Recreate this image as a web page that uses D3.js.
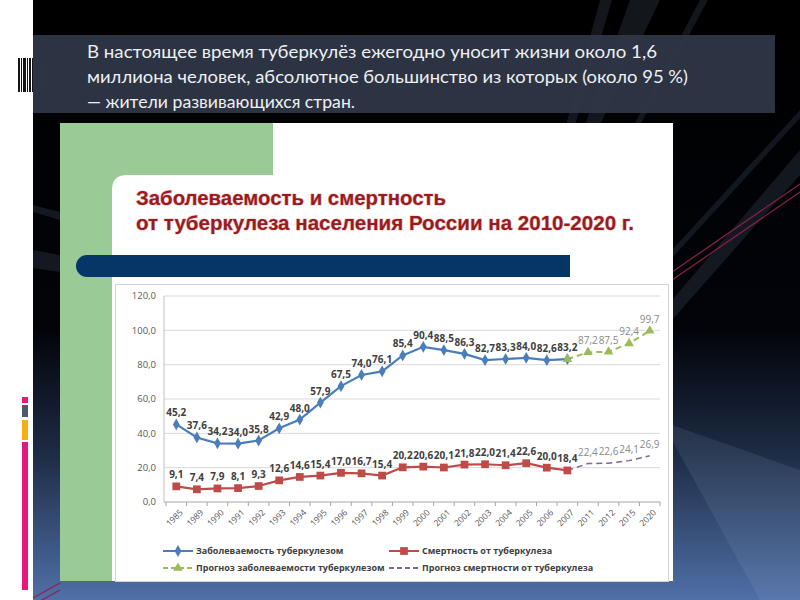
<!DOCTYPE html>
<html>
<head>
<meta charset="utf-8">
<script src="https://cdn.jsdelivr.net/npm/d3@7"></script>
<style>
  body { margin: 0; background: #fff; }
  svg { display: block; }
</style>
</head>
<body>
<div id="chart"></div>
<script>
// categories (years on the x axis)
const years = ["1985","1989","1990","1991","1992","1993","1994","1995","1996","1997","1998","1999",
  "2000","2001","2002","2003","2004","2005","2006","2007","2011","2012","2015","2020"];
const factYears = ["1985","1989","1990","1991","1992","1993","1994","1995","1996","1997","1998","1999",
  "2000","2001","2002","2003","2004","2005","2006","2007"];
const forecastYears = ["2007","2011","2012","2015","2020"];

// incidence and mortality per 100 000
const incidence = [45.2,37.6,34.2,34.0,35.8,42.9,48.0,57.9,67.5,74.0,76.1,85.4,90.4,88.5,86.3,82.7,83.3,84.0,82.6,83.2];
const mortality = [9.1,7.4,7.9,8.1,9.3,12.6,14.6,15.4,17.0,16.7,15.4,20.2,20.6,20.1,21.8,22.0,21.4,22.6,20.0,18.4];
const incidenceForecast = [83.2,87.2,87.5,92.4,99.7];
const mortalityForecast = [18.4,22.4,22.6,24.1,26.9];

const yTicks = [0,20,40,60,80,100,120];

const seriesNames = ["Заболеваемость туберкулезом","Смертность от туберкулеза",
  "Прогноз заболеваемости туберкулезом","Прогноз смертности от туберкулеза"];

const slideLines = ["В настоящее время туберкулёз  ежегодно уносит жизни около 1,6",
  "миллиона человек, абсолютное большинство из которых (около 95 %)",
  "— жители развивающихся стран."];
const titleLines = ["Заболеваемость и смертность","от туберкулеза населения России на 2010-2020 г."];

const W = 800, H = 600;
const svg = d3.select("#chart").append("svg").attr("width", W).attr("height", H);

// ---- slide background ----
const defs = svg.append("defs");
const bg = defs.append("linearGradient").attr("id","bg").attr("x1",0).attr("y1",0).attr("x2",0).attr("y2",1);
bg.append("stop").attr("offset","0").attr("stop-color","#000");
bg.append("stop").attr("offset","0.55").attr("stop-color","#02040a");
bg.append("stop").attr("offset","0.75").attr("stop-color","#1c2a42");
bg.append("stop").attr("offset","1").attr("stop-color","#5070a8");

svg.append("rect").attr("x",33).attr("y",0).attr("width",W-33).attr("height",H).attr("fill","url(#bg)");

// light streaks
const streaks = [
  [[600,0],[612,0],[575,125],[566,125]],
  [[630,0],[660,0],[600,125],[585,125]],
  [[700,0],[708,0],[640,125],[634,125]],
  [[672,300],[800,150],[800,175],[672,320]],
  [[672,250],[800,110],[800,118],[672,258]],
  [[33,250],[60,255],[60,272],[33,268]],
  [[33,205],[60,212],[60,220],[33,212]],
  [[672,425],[800,470],[800,600],[760,600],[672,440]]
];
svg.selectAll(".streak").data(streaks).enter().append("path")
  .attr("class","streak")
  .attr("d", d => "M" + d.join("L") + "Z")
  .attr("fill","#9fb3d6").attr("fill-opacity",0.12);

// pink double lines
[[672,272,800,184],[672,280,800,192],[33,605,60,590],[33,598,60,583]].forEach(l => {
  svg.append("line").attr("x1",l[0]).attr("y1",l[1]).attr("x2",l[2]).attr("y2",l[3])
    .attr("stroke","#8e2148").attr("stroke-width",1.2);
});

// left side decorations
const barcode = [[18,2],[21,1],[23,3],[27,1],[29,2],[32,1],[34,3],[38,1],[40,2],[43,3]];
barcode.forEach(b => {
  svg.append("rect").attr("x",b[0]).attr("y",58).attr("width",b[1]).attr("height",34).attr("fill","#151515");
});
[[397,6,"#e6197a"],[405,12,"#4f5868"],[420,20,"#f8ad12"],[442,148,"#e6197a"]].forEach(b => {
  svg.append("rect").attr("x",22).attr("y",b[0]).attr("width",6).attr("height",b[1]).attr("fill",b[2]);
});

// text box
svg.append("rect").attr("x",33).attr("y",35).attr("width",742).attr("height",78)
  .attr("fill","#2e3747").attr("fill-opacity",0.95);
const slideText = svg.append("g").attr("font-family","Lato, 'Open Sans', sans-serif")
  .attr("font-size",16.5).attr("fill","#eef0f2");
const lineLen = [570, 601, 268];
slideLines.forEach((t,i) => {
  slideText.append("text").attr("x",87).attr("y",58 + i*25).text(t)
    .attr("textLength", lineLen[i]).attr("lengthAdjust","spacingAndGlyphs");
});

// ---- picture panel ----
svg.append("rect").attr("x",60).attr("y",123).attr("width",613).attr("height",458).attr("fill","#fff");
svg.append("path")
  .attr("d","M60,123H273V175H127Q112,175 112,190V581H60Z")
  .attr("fill","#9acb96");

const title = svg.append("g").attr("font-family","'Liberation Sans', Arial, sans-serif")
  .attr("font-weight","bold").attr("font-size",19.5).attr("fill","#9a1a1e");
const titleLen = [310, 498];
titleLines.forEach((t,i) => {
  title.append("text").attr("x",136).attr("y",205 + i*25).text(t)
    .attr("textLength", titleLen[i]).attr("lengthAdjust","spacingAndGlyphs")
    .style("paint-order","stroke").attr("stroke","#e9c9c9").attr("stroke-width",1.2);
});

// navy bar
svg.append("rect").attr("x",76).attr("y",255).attr("width",494).attr("height",22)
  .attr("rx",11).attr("fill","#063668");
svg.append("rect").attr("x",90).attr("y",255).attr("width",480).attr("height",22).attr("fill","#063668");

// chart frame
svg.append("rect").attr("x",115.5).attr("y",284.5).attr("width",553).attr("height",297)
  .attr("fill","#fff").attr("stroke","#d4d4d4");

// ---- chart ----
const x = d3.scalePoint().domain(years).range([166, 660]).padding(0.5);
const y = d3.scaleLinear().domain([0,120]).range([502, 296]);
const fmt = v => d3.format(".1f")(v).replace(".", ",");
const step = x.step();

const chart = svg.append("g").attr("font-family","'Open Sans', 'Liberation Sans', sans-serif");

// gridlines and y labels
chart.selectAll(".grid").data(yTicks).enter().append("line")
  .attr("x1",164).attr("x2",660).attr("y1",d => y(d)).attr("y2",d => y(d))
  .attr("stroke",d => d === 0 ? "#a6a6a6" : "#d9d9d9");
chart.selectAll(".ylab").data(yTicks).enter().append("text")
  .attr("x",156).attr("y",d => y(d)).attr("dy","0.35em")
  .attr("text-anchor","end").attr("font-size",9.5).attr("fill","#595959")
  .text(fmt);
chart.append("line").attr("x1",164).attr("x2",164).attr("y1",y(120)).attr("y2",y(0)).attr("stroke","#bfbfbf");

// x ticks between categories
chart.selectAll(".xtick").data(years.concat(["end"])).enter().append("line")
  .attr("x1",(d,i) => 166 + i*step).attr("x2",(d,i) => 166 + i*step)
  .attr("y1",y(0)).attr("y2",y(0)+4).attr("stroke","#a6a6a6");

chart.selectAll(".xlab").data(years).enter().append("text")
  .attr("transform",d => `translate(${x(d)+5},${y(0)+9}) rotate(-45)`)
  .attr("text-anchor","end").attr("dy","0.35em")
  .attr("font-size",8.5).attr("fill","#505050")
  .text(d => d);

// lines
const line = d3.line().x(d => x(d[0])).y(d => y(d[1]));
const inc = factYears.map((d,i) => [d, incidence[i]]);
const mor = factYears.map((d,i) => [d, mortality[i]]);
const incF = forecastYears.map((d,i) => [d, incidenceForecast[i]]);
const morF = forecastYears.map((d,i) => [d, mortalityForecast[i]]);

chart.append("path").datum(incF).attr("d",line).attr("fill","none")
  .attr("stroke","#9bbb59").attr("stroke-width",2).attr("stroke-dasharray","6,4");
chart.append("path").datum(morF).attr("d",line).attr("fill","none")
  .attr("stroke","#8064a2").attr("stroke-width",1.5).attr("stroke-dasharray","6,4");
chart.append("path").datum(inc).attr("d",line).attr("fill","none")
  .attr("stroke","#4a7ebb").attr("stroke-width",2.2);
chart.append("path").datum(mor).attr("d",line).attr("fill","none")
  .attr("stroke","#be4b48").attr("stroke-width",2.2);

// markers
const diamond = d3.symbol().type(d3.symbolDiamond).size(40);
const square = d3.symbol().type(d3.symbolSquare).size(60);
const triangle = d3.symbol().type(d3.symbolTriangle).size(40);
const cross = d3.symbol().type(d3.symbolX).size(25);

chart.selectAll(".mInc").data(inc).enter().append("path")
  .attr("d",diamond).attr("transform",d => `translate(${x(d[0])},${y(d[1])})`).attr("fill","#4a7ebb");
chart.selectAll(".mMor").data(mor).enter().append("path")
  .attr("d",square).attr("transform",d => `translate(${x(d[0])},${y(d[1])})`).attr("fill","#be4b48");
chart.selectAll(".mIncF").data(incF).enter().append("path")
  .attr("d",triangle).attr("transform",d => `translate(${x(d[0])},${y(d[1])})`).attr("fill","#9bbb59");
chart.selectAll(".mMorF").data(morF.slice(1)).enter().append("path")
  .attr("d",cross).attr("transform",d => `translate(${x(d[0])},${y(d[1])})`).attr("fill","#8064a2");

// data labels
function labels(data, color, weight) {
  chart.append("g").selectAll("text").data(data).enter().append("text")
    .attr("x",d => x(d[0])).attr("y",d => y(d[1]) - 8)
    .attr("text-anchor","middle").attr("font-size",10).attr("font-weight",weight)
    .attr("fill",color).text(d => fmt(d[1]));
}
labels(inc, "#404040", "bold");
labels(mor, "#404040", "bold");
labels(incF.slice(1), "#8a8a8a", "normal");
labels(morF.slice(1), "#8a8a8a", "normal");

// legend
const legend = chart.append("g").attr("font-size",9).attr("font-weight","bold").attr("fill","#404040");
const legendItems = [
  {x:163, y:551, color:"#4a7ebb", dash:null, sym:diamond},
  {x:389, y:551, color:"#be4b48", dash:null, sym:square},
  {x:163, y:568, color:"#9bbb59", dash:"5,3", sym:triangle},
  {x:389, y:568, color:"#8064a2", dash:"5,3", sym:null}
];
legendItems.forEach((d,i) => {
  legend.append("line").attr("x1",d.x).attr("x2",d.x+30).attr("y1",d.y).attr("y2",d.y)
    .attr("stroke",d.color).attr("stroke-width",2).attr("stroke-dasharray",d.dash);
  if (d.sym) legend.append("path").attr("d",d.sym).attr("transform",`translate(${d.x+15},${d.y})`).attr("fill",d.color);
  legend.append("text").attr("x",d.x+33).attr("y",d.y).attr("dy","0.35em").text(seriesNames[i]);
});
</script>
</body>
</html>
